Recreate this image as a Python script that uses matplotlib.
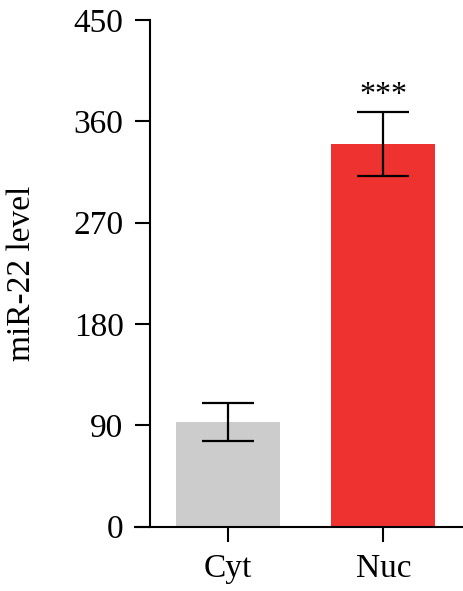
import matplotlib
matplotlib.use("Agg")
import matplotlib.pyplot as plt

categories = ["Cyt", "Nuc"]
values = [93, 340]
errors = [17, 28.5]
colors = ["#CBCCCB", "#EE3230"]
yticks = [0, 90, 180, 270, 360, 450]
annotation = "***"

plt.rcParams['font.family'] = ['Liberation Serif', 'DejaVu Serif']

fig = plt.figure(figsize=(4.63, 5.91), dpi=100)
ax = fig.add_axes([150/463, 64.3/591, 1 - 150/463, (526.7 - 20)/591])

x = list(range(len(categories)))
ax.bar(x, values, width=0.67, color=colors, zorder=1)
ax.errorbar(x, values, yerr=errors, fmt='none', ecolor='black',
            elinewidth=1.6, capsize=18.7, capthick=1.6, zorder=2)
ax.text(x[1], values[1] + errors[1] + 2, annotation, ha='center', va='bottom',
        fontsize=23)

ax.set_xlim(-0.5, 1.512)
ax.set_ylim(0, 450)
ax.set_yticks(yticks)
ax.set_xticks(x)
ax.set_xticklabels(categories)
ax.set_ylabel("miR-22 level", fontsize=24, labelpad=26)

for s in ['top', 'right']:
    ax.spines[s].set_visible(False)
for s in ['left', 'bottom']:
    ax.spines[s].set_linewidth(1.5)
ax.spines['bottom'].set_bounds(-0.5 - 15/155.6, 1.512)
ax.spines['bottom'].set_clip_on(False)
ax.tick_params(axis='both', length=11, width=1.5, labelsize=24, pad=8)

fig.savefig("out.png", dpi=100)
